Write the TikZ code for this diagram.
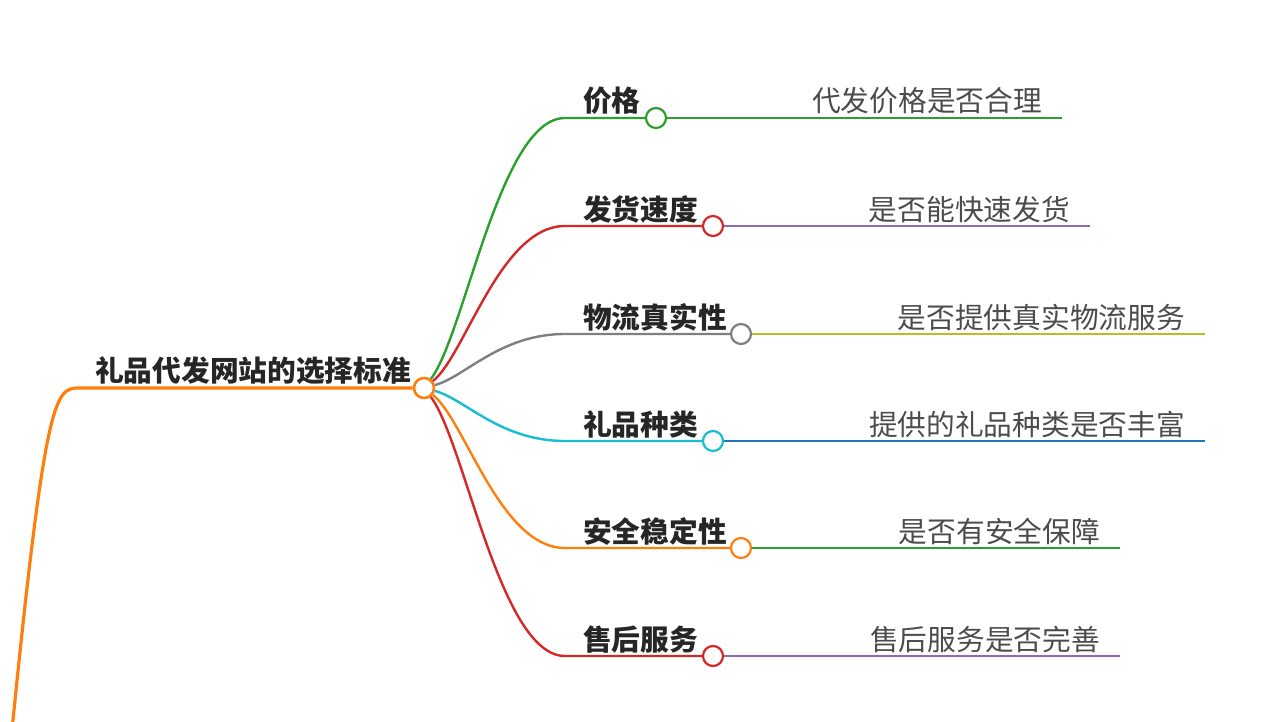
\documentclass[tikz,border=0pt]{standalone}
\usepackage{fontspec}
\newfontfamily\cjk{Noto Sans CJK SC}
\usetikzlibrary{positioning}
\definecolor{cgreen}{HTML}{2CA02C}
\definecolor{cred}{HTML}{D62728}
\definecolor{cgray}{HTML}{7F7F7F}
\definecolor{colive}{HTML}{BCBD22}
\definecolor{ccyan}{HTML}{17BECF}
\definecolor{cblue}{HTML}{1F77B4}
\definecolor{corange}{HTML}{FF7F0E}
\definecolor{cpurple}{HTML}{9467BD}

\begin{document}
\begin{tikzpicture}[x=1pt,y=-1pt,dot/.style={circle,draw,fill=white,line width=2.2pt,minimum size=20pt,inner sep=0pt},kid/.style={anchor=base west,inner sep=0pt,text=black!85,font=\cjk\bfseries\fontsize{28.7}{28.7}\selectfont},leaf/.style={anchor=base east,inner sep=0pt,text=black!70,font=\cjk\fontsize{28.7}{28.7}\selectfont},br/.style={line width=2.4pt}]
\useasboundingbox (0,0) rectangle (1265,722);
% root
\coordinate (r0) at (12,730);
\coordinate (r1) at (78,388);
\node[dot,draw=corange,line width=2.6pt] (c) at (424,388) {};
\node[kid] (root) at (95,381) {礼品代发网站的选择标准};
\draw[corange,line width=3.2pt] (r0) .. controls (45,400) and (55,388) .. (r1) -- (c);
% 价格
\coordinate (k1) at (565,118); \coordinate (e1) at (1062,118);
\node[kid] (t1) at (583,112) {价格};
\node[dot,draw=cgreen] (d1) at (656,118) {};
\node[leaf] (l1) at (1042,112) {代发价格是否合理};
\draw[br,cgreen] (c) .. controls (465,334) and (500,118) .. (k1) -- (d1);
\draw[br,cgreen] (d1) -- (e1);
% 发货速度
\coordinate (k2) at (565,226); \coordinate (e2) at (1090,226);
\node[kid] (t2) at (583,220) {发货速度};
\node[dot,draw=cred] (d2) at (713,226) {};
\node[leaf] (l2) at (1070,220) {是否能快速发货};
\draw[br,cred] (c) .. controls (465,356) and (500,226) .. (k2) -- (d2);
\draw[br,cpurple] (d2) -- (e2);
% 物流真实性
\coordinate (k3) at (565,334); \coordinate (e3) at (1205,334);
\node[kid] (t3) at (583,328) {物流真实性};
\node[dot,draw=cgray] (d3) at (741,334) {};
\node[leaf] (l3) at (1185,328) {是否提供真实物流服务};
\draw[br,cgray] (c) .. controls (465,377) and (500,334) .. (k3) -- (d3);
\draw[br,colive] (d3) -- (e3);
% 礼品种类
\coordinate (k4) at (565,441); \coordinate (e4) at (1205,441);
\node[kid] (t4) at (583,435) {礼品种类};
\node[dot,draw=ccyan] (d4) at (713,441) {};
\node[leaf] (l4) at (1185,435) {提供的礼品种类是否丰富};
\draw[br,ccyan] (c) .. controls (465,399) and (500,441) .. (k4) -- (d4);
\draw[br,cblue] (d4) -- (e4);
% 安全稳定性
\coordinate (k5) at (565,548); \coordinate (e5) at (1120,548);
\node[kid] (t5) at (583,542) {安全稳定性};
\node[dot,draw=corange] (d5) at (741,548) {};
\node[leaf] (l5) at (1100,542) {是否有安全保障};
\draw[br,corange] (c) .. controls (465,420) and (500,548) .. (k5) -- (d5);
\draw[br,cgreen] (d5) -- (e5);
% 售后服务
\coordinate (k6) at (565,656); \coordinate (e6) at (1120,656);
\node[kid] (t6) at (583,650) {售后服务};
\node[dot,draw=cred] (d6) at (713,656) {};
\node[leaf] (l6) at (1100,650) {售后服务是否完善};
\draw[br,cred] (c) .. controls (465,442) and (500,656) .. (k6) -- (d6);
\draw[br,cpurple] (d6) -- (e6);
\end{tikzpicture}
\end{document}
